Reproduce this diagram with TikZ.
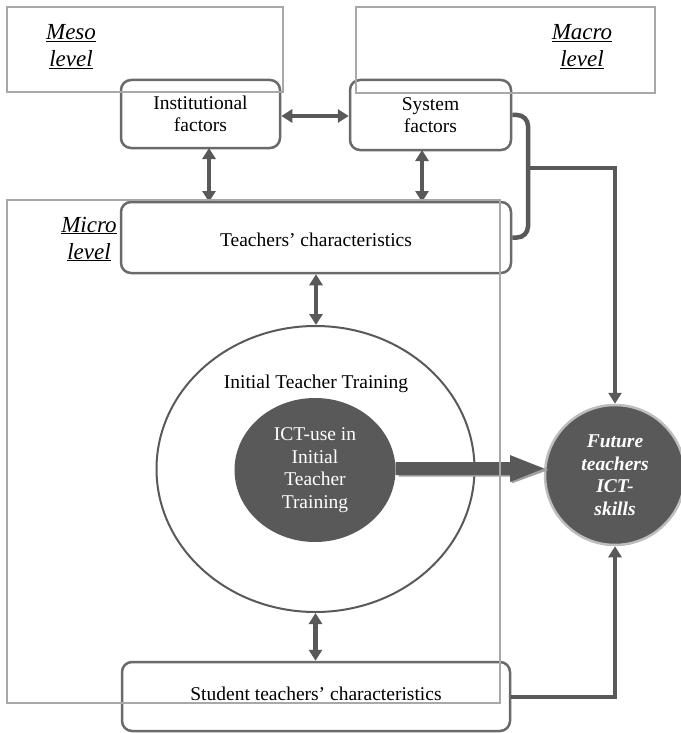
\documentclass[tikz,border=0pt]{standalone}
\usepackage{fontspec}
\setmainfont{Liberation Serif}
\usetikzlibrary{arrows.meta,shapes.geometric}
\definecolor{dk}{HTML}{595959}
\definecolor{bd}{HTML}{6A6A6A}
\definecolor{lv}{HTML}{A8A8A8}
\definecolor{sh}{HTML}{A0A0A0}
\definecolor{rim}{HTML}{BDBDBD}
\tikzset{
  txt/.style={font=\fontsize{19.5}{22.5}\selectfont, align=center, inner sep=0pt},
  factor/.style={txt, draw=bd, line width=2.5pt, rounded corners=10pt, fill=white, rectangle},
  levelbox/.style={draw=lv, line width=1.5pt},
  leveltxt/.style={font=\fontsize{23}{27}\selectfont\itshape, align=center, inner sep=0pt},
  dbl/.style={draw=dk, line width=4.5pt, {Triangle[length=11pt,width=13pt]}-{Triangle[length=11pt,width=13pt]}},
  flow/.style={draw=dk, line width=4.5pt, -{Triangle[length=11pt,width=13pt]}},
  link/.style={draw=dk, line width=4.5pt, rounded corners=11pt},
}
\begin{document}
\begin{tikzpicture}[x=1pt,y=-1pt]
\useasboundingbox (0,0) rectangle (680,733);
% factor boxes
\node[factor, minimum width=159pt, minimum height=68pt] (inst) at (200.5,114) {Institutional\\factors};
\node[factor, minimum width=161pt, minimum height=70pt] (sys) at (430.5,115) {System\\factors};
\node[factor, minimum width=390pt, minimum height=71pt] (teach) at (316,237.5) {\raisebox{-2.5pt}[\height][\depth]{Teachers’ characteristics}};
\node[factor, minimum width=388pt, minimum height=69pt] (stud) at (316,696.5) {\raisebox{3pt}[\height][\depth]{Student teachers’ characteristics}};
% ellipses
\node[ellipse, draw=dk, line width=2pt, minimum width=318pt, minimum height=286pt] (itt) at (315.5,469) {};
\node[txt] (ittlab) at (316,384) {Initial Teacher Training};
\node[ellipse, fill=dk, minimum width=161pt, minimum height=144pt, txt, text=white] (ictuse) at (315,470) {ICT-use in\\Initial\\Teacher\\Training};
% future circle
\node[circle, fill=dk, draw=rim, line width=2.5pt, minimum size=140pt, txt, text=white, font=\fontsize{19.5}{22.5}\selectfont\bfseries\itshape] (fut) at (615,475) {Future\\teachers\\ICT-\\skills};
% thick arrow
\fill[sh] (398.5,463.5) -- (511.5,463.5) -- (511.5,456.5) -- (548.5,470) -- (511.5,483.5) -- (511.5,476.5) -- (398.5,476.5) -- cycle;
\fill[dk] (ictuse.east |- 0,462) -- (510,462) -- (510,455) -- (fut.west |- 0,468.5) -- (510,482) -- (510,475) -- (ictuse.east |- 0,475) -- cycle;
% double arrows
\draw[dbl] (inst.east |- 0,116) -- (sys.west |- 0,116);
\draw[dbl] (209,148) -- (209,202);
\draw[dbl] (422,150) -- (422,202);
\draw[dbl] (teach.south) -- (teach.south |- itt.north);
\draw[dbl] (itt.south) -- (itt.south |- stud.north);
% links to future skills
\coordinate (bend) at (528,168);
\draw[link] (sys.east) -| (bend) |- (teach.east);
\draw[flow] (bend) -| (fut.north);
\draw[flow] (stud.east |- 0,697) -| (fut.south);
% level boxes
\draw[levelbox] (7,7) rectangle (283,92);
\draw[levelbox] (356,7) rectangle (655,93);
\draw[levelbox] (7,200) rectangle (500,703);
\node[leveltxt] (meso) at (71,46.5) {\underline{Meso}\\\underline{level}};
\node[leveltxt] (macro) at (582,46.5) {\underline{Macro}\\\underline{level}};
\node[leveltxt] (micro) at (89,239) {\underline{Micro}\\\underline{level}};
\end{tikzpicture}
\end{document}
